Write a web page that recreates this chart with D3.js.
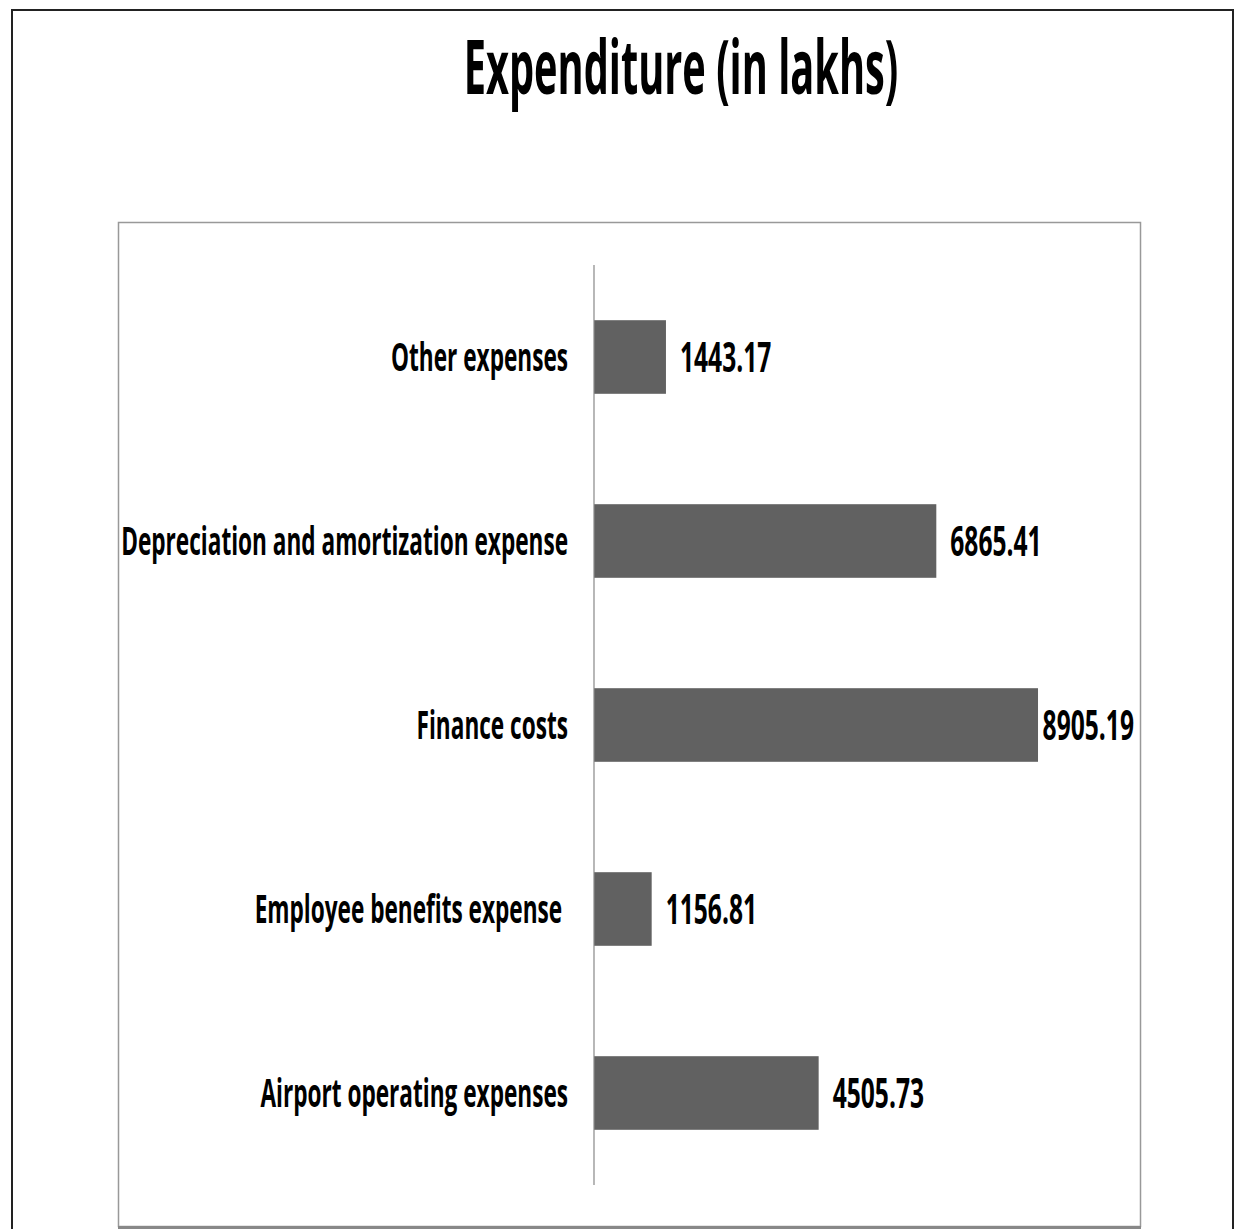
<!DOCTYPE html>
<html><head><meta charset="utf-8">
<script src="https://cdn.jsdelivr.net/npm/d3@7"></script>
<style>
html,body{margin:0;padding:0;background:#fff;}
svg text{font-family:"Open Sans",sans-serif;font-weight:700;white-space:pre;}
</style></head>
<body>
<script>
const categories = ["Other expenses","Depreciation and amortization expense","Finance costs","Employee benefits expense ","Airport operating expenses"];
const values = [1443.17, 6865.41, 8905.19, 1156.81, 4505.73];
const valueLabels = ["1443.17","6865.41","8905.19","1156.81","4505.73"];
const title = "Expenditure (in lakhs)";

const W = 1235, H = 1229;
const svg = d3.select("body").append("svg").attr("width", W).attr("height", H);

// outer border
svg.append("rect").attr("x",12).attr("y",10).attr("width",1221).attr("height",1240)
  .attr("fill","none").attr("stroke","#222").attr("stroke-width",2);
// inner plot box
svg.append("rect").attr("x",118.5).attr("y",222.5).attr("width",1022).attr("height",1004)
  .attr("fill","none").attr("stroke","#999").attr("stroke-width",1.5);
svg.append("line").attr("x1",118).attr("x2",1141).attr("y1",1227.5).attr("y2",1227.5)
  .attr("stroke","#888").attr("stroke-width",3);

const x = d3.scaleLinear().domain([0,10000]).range([594, 1092.6]);
const y = d3.scaleBand().domain(categories).range([265,1185]).paddingInner(0.6).paddingOuter(0.3);

// title
const tg = svg.append("g").attr("transform","translate(681,94) scale(0.523,1)");
tg.append("text").attr("text-anchor","middle").attr("font-size",76).attr("fill","#000").text(title);

// bars
svg.append("g").selectAll("rect").data(values).join("rect")
  .attr("x", x(0)).attr("y",(d,i)=>y(categories[i]))
  .attr("width", d=>x(d)-x(0)).attr("height", y.bandwidth())
  .attr("fill","#616161");

// axis line
const axis = d3.axisLeft(y).tickSize(0).tickFormat("");
const ag = svg.append("g").attr("transform",`translate(${x(0)},0)`).call(axis);
ag.select(".domain").attr("stroke","#888").attr("stroke-width",1.2).attr("d","M0,265V1185");

// category labels
const sx = 0.58, svx = 0.6;
categories.forEach((c,i)=>{
  const cy = y(c) + y.bandwidth()/2;
  svg.append("g").attr("transform",`translate(568,${cy+14}) scale(${sx},1)`)
    .append("text").attr("text-anchor","end").attr("font-size",39).attr("fill","#000").text(c);
});

// value labels
values.forEach((v,i)=>{
  const cy = y(categories[i]) + y.bandwidth()/2;
  const g = svg.append("g");
  const t = g.append("text").attr("font-size",41).attr("fill","#000").text(valueLabels[i]);
  const w = t.node().getComputedTextLength()*svx;
  const xs = Math.min(x(v)+14, 1134 - w);
  g.attr("transform",`translate(${xs},${cy+15}) scale(${svx},1)`);
});
</script>
</body></html>
